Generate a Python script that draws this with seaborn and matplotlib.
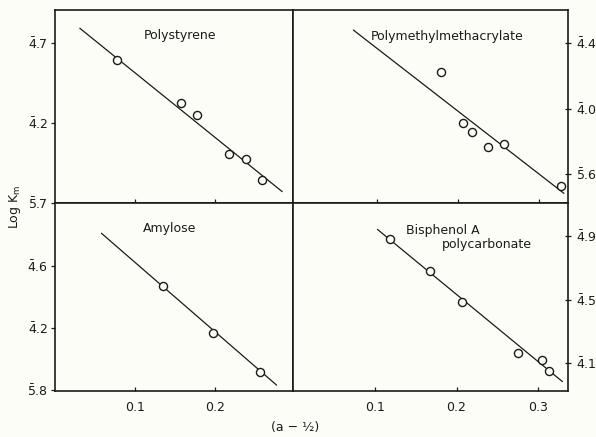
import matplotlib
matplotlib.use("Agg")
import matplotlib.pyplot as plt
import seaborn as sns
import pandas as pd

sns.set_theme(style="white")
plt.rcParams['font.family'] = ['DejaVu Sans']
plt.rcParams['mathtext.fontset'] = 'dejavusans'

# ---- data (log K_m, with bar-notation labels) ----
ps_x = [0.078, 0.157, 0.177, 0.217, 0.239, 0.259]
ps_y = [-3.406, -3.677, -3.750, -3.996, -4.027, -4.156]
ps_fit_x = [0.031, 0.284]
ps_fit_y = [-3.208, -4.229]

pmma_x = [0.179, 0.206, 0.217, 0.237, 0.256, 0.327]
pmma_y = [-3.775, -4.086, -4.145, -4.232, -4.216, -4.470]
pmma_fit_x = [0.0715, 0.330]
pmma_fit_y = [-3.521, -4.517]

amy_x = [0.135, 0.197, 0.256]
amy_y = [-3.529, -3.834, -4.082]
amy_fit_x = [0.058, 0.277]
amy_fit_y = [-3.189, -4.168]

bpa_x = [0.118, 0.167, 0.207, 0.276, 0.305, 0.313]
bpa_y = [-3.121, -3.318, -3.517, -3.834, -3.880, -3.949]
bpa_fit_x = [0.103, 0.330]
bpa_fit_y = [-3.058, -4.016]

ps_yticks = [-3.3, -3.8, -4.3]
ps_ylabels = [r'$\bar{4}$.7', r'$\bar{4}$.2', r'$\bar{5}$.7']
pmma_yticks = [-3.6, -4.0, -4.4]
pmma_ylabels = [r'$\bar{4}$.4', r'$\bar{4}$.0', r'$\bar{5}$.6']
amy_yticks = [-3.4, -3.8, -4.2]
amy_ylabels = [r'$\bar{4}$.6', r'$\bar{4}$.2', r'$\bar{5}$.8']
bpa_yticks = [-3.1, -3.5, -3.9]
bpa_ylabels = [r'$\bar{4}$.9', r'$\bar{4}$.5', r'$\bar{4}$.1']

left_xticks = [0.1, 0.2]
right_xticks = [0.1, 0.2, 0.3]

bg = '#fdfdf8'
ink = '#1a1a1a'
FS = 9

W, H = 596, 437
fig = plt.figure(figsize=(W / 100, H / 100), dpi=100, facecolor=bg)


def px_axes(x0, y0, x1, y1):
    ax = fig.add_axes([x0 / W, 1 - y1 / H, (x1 - x0) / W, (y1 - y0) / H])
    ax.set_facecolor(bg)
    for s in ax.spines.values():
        s.set_color(ink)
        s.set_linewidth(1.2)
        s.set_visible(True)
    return ax


ax_tl = px_axes(55, 10, 293, 203)
ax_tr = px_axes(293, 10, 568, 203)
ax_bl = px_axes(55, 203, 293, 391)
ax_br = px_axes(293, 203, 568, 391)

panels = [
    (ax_tl, ps_x, ps_y, ps_fit_x, ps_fit_y, (0.0, 0.2975), (-4.30, -3.094), ps_yticks, ps_ylabels, 'left', left_xticks, False),
    (ax_tr, pmma_x, pmma_y, pmma_fit_x, pmma_fit_y, (-0.0025, 0.335), (-4.576, -3.399), pmma_yticks, pmma_ylabels, 'right', right_xticks, False),
    (ax_bl, amy_x, amy_y, amy_fit_x, amy_fit_y, (0.0, 0.2975), (-4.206, -2.994), amy_yticks, amy_ylabels, 'left', left_xticks, True),
    (ax_br, bpa_x, bpa_y, bpa_fit_x, bpa_fit_y, (-0.0006, 0.3368), (-4.075, -2.892), bpa_yticks, bpa_ylabels, 'right', right_xticks, True),
]

for ax, x, y, fx, fy, xl, yl, yt, ytl, side, xt, showx in panels:
    sns.lineplot(x=fx, y=fy, ax=ax, color=ink, linewidth=0.9)
    sns.scatterplot(x=x, y=y, ax=ax, marker='o', s=34, facecolor=bg,
                    edgecolor=ink, linewidth=1.0, zorder=3)
    ax.set_xlim(*xl)
    ax.set_ylim(*yl)
    ax.set_yticks(yt)
    ax.set_yticklabels(ytl, fontsize=FS, color=ink)
    ax.set_xticks(xt)
    if showx:
        ax.set_xticklabels([f'{v:.1f}' for v in xt], fontsize=FS, color=ink)
    else:
        ax.set_xticklabels([])
    ax.tick_params(axis='x', direction='in', length=3, width=0.9, pad=7, colors=ink,
                   bottom=True, top=False)
    if side == 'left':
        ax.tick_params(axis='y', direction='out', length=3, width=0.9, pad=2, colors=ink,
                       left=True, right=False, labelleft=True, labelright=False)
    else:
        ax.tick_params(axis='y', direction='inout', length=5, width=0.9, pad=3, colors=ink,
                       left=False, right=True, labelleft=False, labelright=True)
    ax.set_xlabel('')
    ax.set_ylabel('')

ax_tl.text(0.525, 0.87, 'Polystyrene', transform=ax_tl.transAxes, ha='center', va='center',
           fontsize=FS, color=ink)
ax_tr.text(0.559, 0.862, 'Polymethylmethacrylate', transform=ax_tr.transAxes, ha='center',
           va='center', fontsize=FS, color=ink)
ax_bl.text(0.483, 0.862, 'Amylose', transform=ax_bl.transAxes, ha='center', va='center',
           fontsize=FS, color=ink)
ax_br.text(0.411, 0.856, 'Bisphenol A', transform=ax_br.transAxes, ha='left', va='center',
           fontsize=FS, color=ink)
ax_br.text(0.541, 0.777, 'polycarbonate', transform=ax_br.transAxes, ha='left', va='center',
           fontsize=FS, color=ink)

fig.text(15 / W, 1 - 207 / H, r'Log K$_{\mathrm{m}}$', rotation=90, ha='center', va='center',
         fontsize=FS, color=ink)
fig.text(295 / W, 1 - 428 / H, '(a − ½)', ha='center', va='center', fontsize=FS, color=ink)

fig.savefig('out.png', dpi=100, facecolor=bg)
